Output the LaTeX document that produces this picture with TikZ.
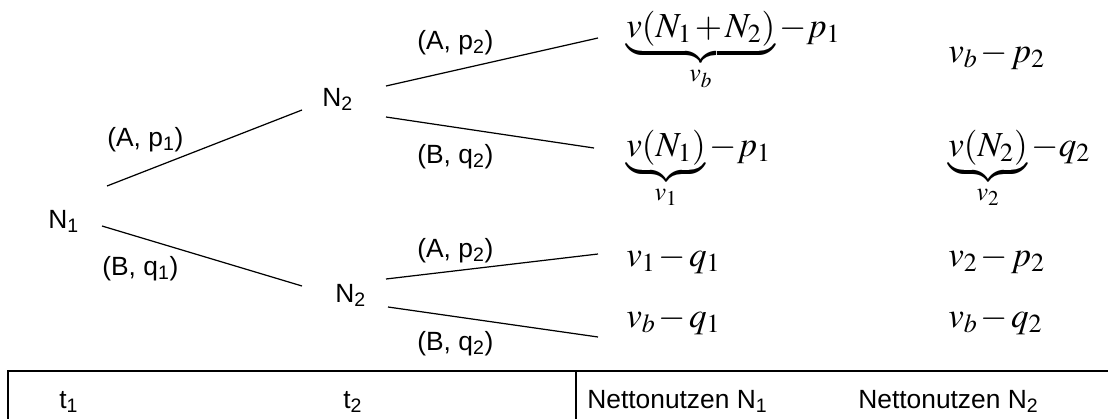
\documentclass[tikz,border=0pt]{standalone}
\usepackage{mathptmx}
\usepackage[no-math]{fontspec}
\setmainfont{Liberation Sans}
\usepackage{tikz}

\begin{document}
\begin{tikzpicture}[x=0.02cm, y=-0.02cm,
    lbl/.style={anchor=base west, inner sep=0pt, font=\fontsize{15}{18}\selectfont},
    pay/.style={anchor=base west, inner sep=0pt, font=\fontsize{20}{24}\selectfont},
    branch/.style={line width=0.7pt}]
  \useasboundingbox (0,0) rectangle (1108,419);
  \medmuskip=1.5mu

  % decision nodes
  \node[lbl] (N1) at (48,228) {N\textsubscript{1}};
  \node[lbl] (N2a) at (322,106) {N\textsubscript{2}};
  \node[lbl] (N2b) at (335,302) {N\textsubscript{2}};

  % branch ends
  \coordinate (e1s) at (107,186); \coordinate (e1t) at (302,110);
  \coordinate (e2s) at (102,226); \coordinate (e2t) at (302,286);
  \coordinate (e3s) at (386,86);  \coordinate (e3t) at (598,38);
  \coordinate (e4s) at (386,117); \coordinate (e4t) at (594,148);
  \coordinate (e5s) at (386,279); \coordinate (e5t) at (598,254);
  \coordinate (e6s) at (388,307); \coordinate (e6t) at (598,337);

  \draw[branch] (e1s) -- (e1t);
  \draw[branch] (e2s) -- (e2t);
  \draw[branch] (e3s) -- (e3t);
  \draw[branch] (e4s) -- (e4t);
  \draw[branch] (e5s) -- (e5t);
  \draw[branch] (e6s) -- (e6t);

  % actions
  \node[lbl] (A1) at (107,146) {(A, p\textsubscript{1})};
  \node[lbl] (B1) at (102,275) {(B, q\textsubscript{1})};
  \node[lbl] (A2a) at (417,49) {(A, p\textsubscript{2})};
  \node[lbl] (B2a) at (417,163) {(B, q\textsubscript{2})};
  \node[lbl] (A2b) at (417,257) {(A, p\textsubscript{2})};
  \node[lbl] (B2b) at (417,350) {(B, q\textsubscript{2})};

  % payoffs
  \node[pay] (u1) at (626,37) {$\underbrace{v(N_1+N_2)}_{v_b}-p_1$};
  \node[pay] (w1) at (948,62) {$v_b-p_2$};
  \node[pay] (u2) at (626,156) {$\underbrace{v(N_1)}_{v_1}-p_1$};
  \node[pay] (w2) at (948,156) {$\underbrace{v(N_2)}_{v_2}-q_2$};
  \node[pay] (u3) at (626,266) {$v_1-q_1$};
  \node[pay] (w3) at (948,266) {$v_2-p_2$};
  \node[pay] (u4) at (626,327) {$v_b-q_1$};
  \node[pay] (w4) at (948,327) {$v_b-q_2$};

  % table
  \draw[branch] (1108,371) -- (8,371) -- (8,419);
  \draw[branch] (576,371) -- (576,419);
  \node[lbl] (t1) at (59,408) {t\textsubscript{1}};
  \node[lbl] (t2) at (343,408) {t\textsubscript{2}};
  \node[lbl] (n1) at (587,408) {Nettonutzen N\textsubscript{1}};
  \node[lbl] (n2) at (858,408) {Nettonutzen N\textsubscript{2}};
\end{tikzpicture}
\end{document}
